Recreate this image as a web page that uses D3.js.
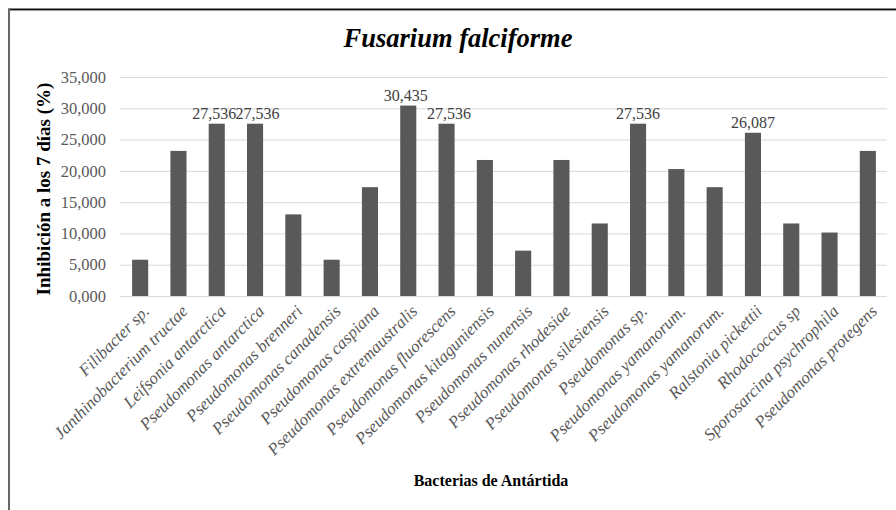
<!DOCTYPE html>
<html>
<head>
<meta charset="utf-8">
<script src="https://cdn.jsdelivr.net/npm/d3@7/dist/d3.min.js"></script>
<style>
  html, body { margin: 0; padding: 0; background: #fff; }
  svg { display: block; }
</style>
</head>
<body>
<svg id="chart" width="896" height="510"></svg>
<script>
// Antarctic bacterial isolates and their inhibition of Fusarium falciforme after 7 days
const categories = [
  "Filibacter sp.", "Janthinobacterium tructae", "Leifsonia antarctica",
  "Pseudomonas antarctica", "Pseudomonas brenneri", "Pseudomonas canadensis",
  "Pseudomonas caspiana", "Pseudomonas extremaustralis", "Pseudomonas fluorescens",
  "Pseudomonas kitaguniensis", "Pseudomonas nunensis", "Pseudomonas rhodesiae",
  "Pseudomonas silesiensis", "Pseudomonas sp.", "Pseudomonas yamanorum.",
  "Pseudomonas yamanorum.", "Ralstonia pickettii", "Rhodococcus sp",
  "Sporosarcina psychrophila", "Pseudomonas protegens"
];
const inhibition = [
  5.797, 23.188, 27.536, 27.536, 13.043, 5.797, 17.391, 30.435, 27.536, 21.739,
  7.246, 21.739, 11.594, 27.536, 20.290, 17.391, 26.087, 11.594, 10.145, 23.188
];
// bars that carry a value label
const labelledBars = [2, 3, 7, 8, 13, 16];
const yTicks = [0, 5, 10, 15, 20, 25, 30, 35];

const title = "Fusarium falciforme";
const yTitle = "Inhibición a los 7 días (%)";
const xTitle = "Bacterias de Antártida";

const es = d3.formatLocale({ decimal: ",", thousands: ".", grouping: [3], currency: ["", " €"] });
const fmt = es.format(".3f");

const SERIF = "Liberation Serif";
const svg = d3.select("#chart");

const plot = { left: 121, right: 887, top: 77, bottom: 296 };

const x = d3.scaleBand()
  .domain(d3.range(categories.length))
  .range([plot.left, plot.right])
  .paddingInner(0.58)
  .paddingOuter(0.29);

const y = d3.scaleLinear()
  .domain([0, 35])
  .range([plot.bottom, plot.top]);

// frame of the chart area
svg.append("line").attr("x1", 8).attr("x2", 896).attr("y1", 10.5).attr("y2", 10.5)
  .attr("stroke", "#9a9a9a").attr("stroke-width", 1);
svg.append("line").attr("x1", 8).attr("x2", 896).attr("y1", 9.25).attr("y2", 9.25)
  .attr("stroke", "#111").attr("stroke-width", 1.5);
svg.append("line").attr("x1", 9).attr("x2", 9).attr("y1", 9).attr("y2", 510)
  .attr("stroke", "#666").attr("stroke-width", 2);

// title
svg.append("text")
  .attr("x", 458).attr("y", 47)
  .attr("text-anchor", "middle")
  .style("font-family", SERIF)
  .style("font-size", "26.5px")
  .style("font-weight", "bold").style("font-style", "italic")
  .attr("fill", "#000")
  .text(title);

// y axis with gridlines
const yAxis = d3.axisLeft(y)
  .tickValues(yTicks)
  .tickFormat(fmt)
  .tickSize(-(plot.right - plot.left + 1))
  .tickPadding(14);

const gy = svg.append("g")
  .attr("transform", `translate(${plot.left - 1},0)`)
  .call(yAxis);
gy.select(".domain").remove();
gy.selectAll(".tick line").attr("stroke", "#d9d9d9").attr("stroke-width", 1);
gy.selectAll(".tick text")
  .style("font-family", SERIF)
  .style("font-size", "16.5px")
  .attr("fill", "#595959");

// bars
svg.append("g").selectAll("rect")
  .data(inhibition)
  .join("rect")
  .attr("x", (d, i) => x(i))
  .attr("width", x.bandwidth())
  .attr("y", d => y(d))
  .attr("height", d => y(0) - y(d))
  .attr("fill", "#595959");

// value labels; labels on neighbouring bars are pushed slightly apart
const labelSet = new Set(labelledBars);
const nudge = i => (labelSet.has(i + 1) ? -2.5 : 0) + (labelSet.has(i - 1) ? 2.5 : 0);

svg.append("g").selectAll("text")
  .data(labelledBars)
  .join("text")
  .attr("x", i => x(i) + x.bandwidth() / 2 + nudge(i))
  .attr("y", i => y(inhibition[i]) - 5)
  .attr("text-anchor", "middle")
  .style("font-family", SERIF)
  .style("font-size", "16px")
  .attr("fill", "#404040")
  .text(i => fmt(inhibition[i]));

// x axis with rotated category names
const xAxis = d3.axisBottom(x)
  .tickFormat(i => categories[i])
  .tickSize(0)
  .tickPadding(0);

const gx = svg.append("g")
  .attr("transform", `translate(0,${plot.bottom})`)
  .call(xAxis);
gx.select(".domain").remove();
gx.selectAll(".tick text")
  .style("font-family", SERIF)
  .style("font-size", "17px")
  .style("font-style", "italic")
  .attr("fill", "#595959")
  .attr("text-anchor", "end")
  .attr("dy", "0.35em")
  .attr("transform", "translate(6,12) rotate(-45)");

// axis titles
svg.append("text")
  .attr("transform", `translate(50,${189}) rotate(-90)`)
  .attr("text-anchor", "middle")
  .style("font-family", SERIF)
  .style("font-size", "19px")
  .style("font-weight", "bold")
  .attr("fill", "#000")
  .text(yTitle);

svg.append("text")
  .attr("x", 491).attr("y", 486)
  .attr("text-anchor", "middle")
  .style("font-family", SERIF)
  .style("font-size", "16px")
  .style("font-weight", "bold")
  .attr("fill", "#000")
  .text(xTitle);
</script>
</body>
</html>
